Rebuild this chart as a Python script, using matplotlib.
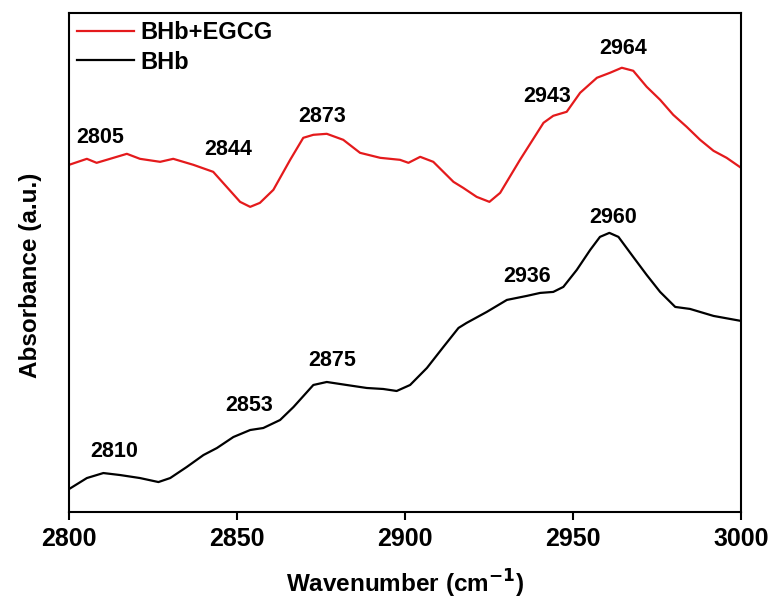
import matplotlib
matplotlib.use("Agg")
import matplotlib.pyplot as plt

plt.rcParams["font.family"] = ["Liberation Sans", "DejaVu Sans"]
plt.rcParams["font.weight"] = "bold"
plt.rcParams["mathtext.default"] = "bf"

# BHb + EGCG spectrum
wn_egcg = [2800.0, 2805.3, 2808.2, 2812.2, 2817.2, 2821.1, 2827.1, 2831.0, 2837.0,
           2842.9, 2846.9, 2850.9, 2853.9, 2856.8, 2860.8, 2865.8, 2869.7, 2872.7,
           2876.7, 2881.6, 2886.6, 2892.6, 2898.5, 2901.0, 2904.5, 2908.4, 2914.4,
           2917.3, 2921.3, 2925.1, 2928.3, 2934.2, 2941.2, 2944.1, 2948.1, 2952.1,
           2957.1, 2961.0, 2964.5, 2967.9, 2971.9, 2975.9, 2979.8, 2983.8, 2987.8,
           2991.8, 2995.7, 3000.0]
abs_egcg = [3.47, 3.53, 3.49, 3.53, 3.58, 3.53, 3.50, 3.53, 3.47,
            3.40, 3.25, 3.10, 3.05, 3.09, 3.22, 3.52, 3.74, 3.77,
            3.78, 3.72, 3.59, 3.54, 3.52, 3.49, 3.55, 3.50, 3.30,
            3.24, 3.15, 3.10, 3.19, 3.52, 3.89, 3.96, 4.00, 4.19,
            4.34, 4.39, 4.44, 4.41, 4.25, 4.12, 3.97, 3.85, 3.72,
            3.61, 3.54, 3.44]

# BHb spectrum
wn_bhb = [2800.0, 2805.3, 2810.2, 2815.2, 2821.1, 2826.6, 2830.1, 2835.0, 2840.0,
          2844.0, 2848.9, 2853.9, 2857.8, 2862.8, 2866.8, 2872.7, 2876.7, 2882.6,
          2888.6, 2893.5, 2897.5, 2901.5, 2906.5, 2911.4, 2915.9, 2918.3, 2924.3,
          2930.3, 2936.2, 2940.2, 2944.1, 2947.1, 2951.1, 2955.1, 2958.0, 2960.8,
          2963.5, 2967.9, 2971.9, 2975.9, 2980.4, 2984.8, 2991.8, 3000.0]
abs_bhb = [0.23, 0.34, 0.39, 0.37, 0.34, 0.30, 0.34, 0.45, 0.57,
           0.64, 0.75, 0.82, 0.84, 0.92, 1.05, 1.27, 1.30, 1.27,
           1.24, 1.23, 1.21, 1.27, 1.44, 1.65, 1.84, 1.89, 2.00,
           2.12, 2.16, 2.19, 2.20, 2.25, 2.42, 2.62, 2.75, 2.79,
           2.75, 2.55, 2.37, 2.20, 2.05, 2.03, 1.96, 1.91]

# peak labels: text, x, y
peak_text = ["2805", "2844", "2873", "2943", "2964",
             "2810", "2853", "2875", "2936", "2960"]
peak_x = [2809.2, 2847.4, 2875.2, 2942.2, 2965.0,
          2813.5, 2853.7, 2878.2, 2936.2, 2962.0]
peak_y = [3.74, 3.62, 3.95, 4.15, 4.63,
          0.61, 1.06, 1.51, 2.35, 2.94]

fig = plt.figure(figsize=(7.76, 6.06), dpi=100)
ax = fig.add_axes([0.089, 0.155, 0.866, 0.824])

ax.plot(wn_egcg, abs_egcg, color="#e41a1c", lw=1.6, label="BHb+EGCG")
ax.plot(wn_bhb, abs_bhb, color="black", lw=1.6, label="BHb")

for t, x, y in zip(peak_text, peak_x, peak_y):
    ax.text(x, y, t, ha="center", va="center", fontsize=15.5, fontweight="bold")

ax.set_xlim(2800, 3000)
ax.set_ylim(0, 4.99)
ax.set_xticks([2800, 2850, 2900, 2950, 3000])
ax.set_yticks([])
ax.tick_params(axis="x", direction="out", length=6, width=1.5, labelsize=18, pad=5)
for lbl in ax.get_xticklabels():
    lbl.set_fontweight("bold")
for sp in ax.spines.values():
    sp.set_linewidth(1.5)

ax.set_xlabel("Wavenumber (cm$^{-1}$)", fontsize=17.5, fontweight="bold", labelpad=12)
ax.set_ylabel("Absorbance (a.u.)", fontsize=17.5, fontweight="bold")
ax.yaxis.set_label_coords(-0.040, 0.474)

ax.legend(loc="upper left", frameon=False, fontsize=17, handlelength=2.4,
          handletextpad=0.25, borderaxespad=0.25, borderpad=0.1, labelspacing=0.28)

fig.savefig("out.png", dpi=100)
